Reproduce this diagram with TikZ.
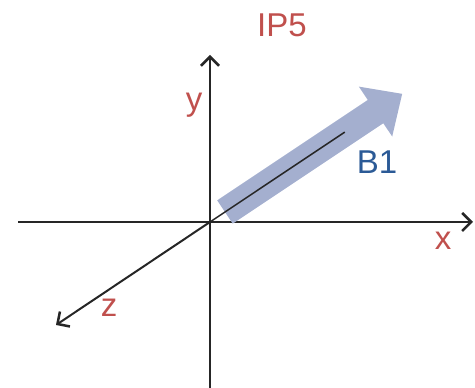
\documentclass[tikz,border=0pt]{standalone}
\usepackage{tikz}
\usetikzlibrary{arrows.meta,positioning,calc}
\usepackage{fontspec}
\setmainfont{Liberation Sans}
\definecolor{axislabel}{HTML}{C0504D}
\definecolor{beamtext}{HTML}{2B5A96}
\definecolor{beamfill}{HTML}{A4AFCF}

\tikzset{
  axis/.style={line width=2pt, draw=black!85},
  axistip/.style={-{Straight Barb[length=9pt,width=18pt,line width=2.5pt]}},
  lbl/.style={text=axislabel, font=\fontsize{33}{38}\selectfont, inner sep=0pt},
}

\begin{document}
\begin{tikzpicture}[x=1pt,y=1pt]
  \useasboundingbox (0,0) rectangle (475,388);
  \coordinate (O) at (210,166);
  \coordinate (xL) at (18,166);
  \coordinate (xR) at (473,166);
  \coordinate (yB) at (210,0);
  \coordinate (yT) at (210,333);
  \coordinate (zE) at (56,63);

  \draw[axis] (xL) -- (O);
  \draw[axis, axistip] (O) -- (xR);
  \draw[axis] (yB) -- (O);
  \draw[axis, axistip] (O) -- (yT);
  \draw[axis, axistip] (O) -- (zE);

  % beam direction
  \begin{scope}[shift={(O)}, rotate=33.7]
    \fill[beamfill] (18,-14) -- (199,-14) -- (199,-30) -- (231,0) -- (199,30) -- (199,14) -- (18,14) -- cycle;
    \coordinate (bE) at (162,0);
  \end{scope}
  \draw[line width=1.5pt, black!85] (O) -- (bE);

  \node[lbl] (ip) at (282,363) {IP5};
  \node[lbl] (ylbl) at (194,283) {y};
  \node[lbl] (xlbl) at (443,147) {x};
  \node[lbl] (zlbl) at (109,80) {z};
  \node[lbl, text=beamtext] (b1) at (377,226) {B1};
\end{tikzpicture}
\end{document}
